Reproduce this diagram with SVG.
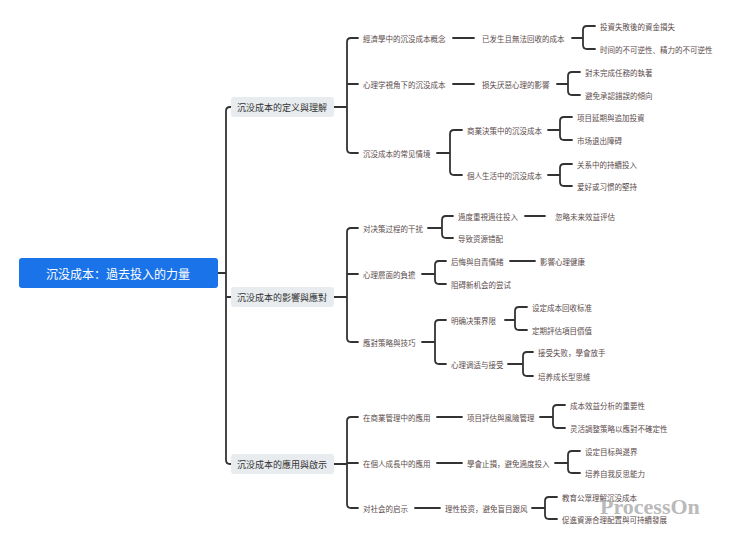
<svg xmlns="http://www.w3.org/2000/svg" width="740" height="548" viewBox="0 0 740 548">
<style>
text{font-family:"Noto Sans CJK SC","Noto Sans CJK TC",sans-serif;font-size:7.5px;fill:#5b4b4b;dominant-baseline:central}
.l1{font-size:9px;fill:#333}
.root{font-size:12px;fill:#fff}
.c path{fill:none;stroke:#333;stroke-width:1.8;stroke-linecap:round;stroke-linejoin:round}
</style>
<rect width="740" height="548" fill="#fff"/>
<g class="c">
<path d="M218 273 H226 M231 107 H230 Q226 107 226 111 V460 Q226 464 230 464 H231 M226 297 H231"/>
<path d="M334 107 H347 M358 38 H351 Q347 38 347 42 V149 Q347 153 351 153 H358 M347 84 H358"/>
<path d="M334 297 H347 M358 228 H351 Q347 228 347 232 V338 Q347 342 351 342 H358 M347 274 H358"/>
<path d="M334 464 H347 M358 417 H351 Q347 417 347 421 V504 Q347 508 351 508 H358 M347 463 H358"/>
<path d="M453 38 H474 M453 84 H474 M525 216 H545 M510 261 H535 M437 417 H462 M437 463 H462 M415 508 H440"/>
<path d="M572 38 H583 M595 26 H587 Q583 26 583 30 V45 Q583 49 587 49 H595"/>
<path d="M557 84 H568 M580 72 H572 Q568 72 568 76 V91 Q568 95 572 95 H580"/>
<path d="M437 153 H450 M462 130 H454 Q450 130 450 134 V171 Q450 175 454 175 H462"/>
<path d="M548 130 H560 M572 117 H564 Q560 117 560 121 V136 Q560 140 564 140 H572"/>
<path d="M548 175 H560 M572 164 H564 Q560 164 560 168 V182 Q560 186 564 186 H572"/>
<path d="M428 228 H442 M453 216 H446 Q442 216 442 220 V234 Q442 238 446 238 H453"/>
<path d="M422 274 H435 M446 261 H439 Q435 261 435 265 V280 Q435 284 439 284 H446"/>
<path d="M422 342 H435 M446 320 H439 Q435 320 435 324 V360 Q435 364 439 364 H446"/>
<path d="M505 320 H515 M527 307 H519 Q515 307 515 311 V326 Q515 330 519 330 H527"/>
<path d="M508 364 H523 M533 352 H527 Q523 352 523 356 V372 Q523 376 527 376 H533"/>
<path d="M540 417 H553 M565 405 H557 Q553 405 553 409 V424 Q553 428 557 428 H565"/>
<path d="M555 463 H568 M580 451 H572 Q568 451 568 455 V469 Q568 473 572 473 H580"/>
<path d="M532 508 H545 M557 497 H549 Q545 497 545 501 V515 Q545 519 549 519 H557"/>
</g>
<g id="root"><rect x="19" y="258" width="199" height="30" rx="3" fill="#1a73e8"/><text class="root" x="118" y="273" text-anchor="middle">沉没成本：過去投入的力量</text></g>
<g id="g1"><rect x="231" y="97" width="103" height="20" rx="3" fill="#e8ecef"/><text class="l1" x="282" y="107" text-anchor="middle">沉没成本的定义與理解</text></g>
<g id="g2"><rect x="231" y="287" width="103" height="20" rx="3" fill="#e8ecef"/><text class="l1" x="282" y="297" text-anchor="middle">沉没成本的影響與應對</text></g>
<g id="g3"><rect x="231" y="454" width="103" height="20" rx="3" fill="#e8ecef"/><text class="l1" x="282" y="464" text-anchor="middle">沉没成本的應用與啟示</text></g>
<g id="leaves">
<text x="363" y="38">經濟學中的沉没成本概念</text>
<text x="482" y="38">已发生且無法回收的成本</text>
<text x="600" y="26">投資失敗後的資金損失</text>
<text x="600" y="49">时间的不可逆性、精力的不可逆性</text>
<text x="363" y="84">心理学視角下的沉没成本</text>
<text x="482" y="84">损失厌惡心理的影響</text>
<text x="585" y="72">對未完成任務的執著</text>
<text x="585" y="95">避免承認錯誤的傾向</text>
<text x="363" y="153">沉没成本的常见情境</text>
<text x="467" y="130">商業決策中的沉没成本</text>
<text x="467" y="175">個人生活中的沉没成本</text>
<text x="577" y="117">项目延期與追加投資</text>
<text x="577" y="140">市场退出障碍</text>
<text x="577" y="164">关系中的持續投入</text>
<text x="577" y="186">爱好或习惯的堅持</text>
<text x="363" y="228">对决策过程的干扰</text>
<text x="458" y="216">過度重視過往投入</text>
<text x="458" y="238">导致资源错配</text>
<text x="555" y="216">忽略未来效益评估</text>
<text x="363" y="274">心理層面的負擔</text>
<text x="451" y="261">后悔與自責情緒</text>
<text x="451" y="284">阻碍新机会的尝试</text>
<text x="540" y="261">影響心理健康</text>
<text x="363" y="342">應對策略與技巧</text>
<text x="451" y="320">明确决策界限</text>
<text x="451" y="364">心理调适与接受</text>
<text x="532" y="307">设定成本回收标准</text>
<text x="532" y="330">定期評估項目價值</text>
<text x="538" y="352">接受失败，學會放手</text>
<text x="538" y="376">培养成长型思維</text>
<text x="363" y="417">在商業管理中的應用</text>
<text x="467" y="417">项目評估與風險管理</text>
<text x="570" y="405">成本效益分析的重要性</text>
<text x="570" y="428">灵活調整策略以應對不確定性</text>
<text x="363" y="463">在個人成長中的應用</text>
<text x="467" y="463">學會止損，避免過度投入</text>
<text x="585" y="451">设定目标與邊界</text>
<text x="585" y="473">培养自我反思能力</text>
<text x="363" y="508">对社会的启示</text>
<text x="445" y="508">理性投资，避免盲目跟风</text>
<text x="562" y="497">教育公眾理解沉没成本</text>
<text x="562" y="519">促進資源合理配置與可持續發展</text>
</g>
<text x="600" y="506" style="font-family:'Liberation Serif',serif;font-size:22px;font-weight:bold;fill:#a9a9a9;opacity:0.8">ProcessOn</text>
</svg>
